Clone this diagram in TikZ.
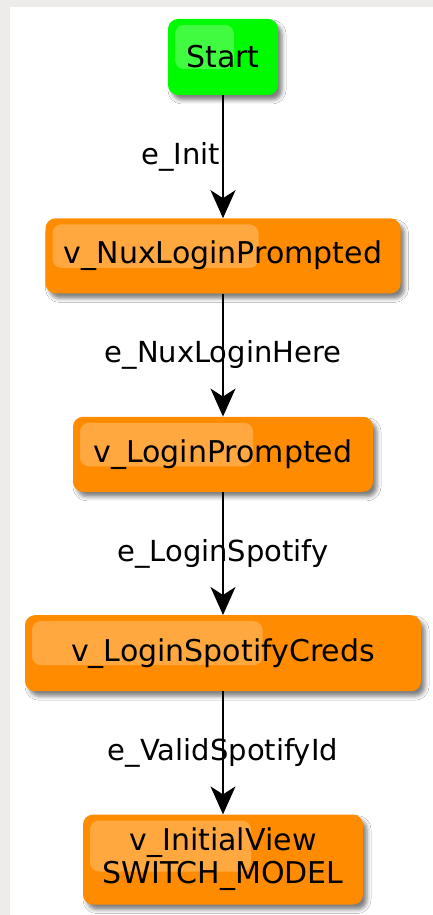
\documentclass[tikz,border=0pt]{standalone}
\usepackage{fontspec}
\setmainfont{DejaVu Sans}
\usetikzlibrary{arrows.meta}
\usetikzlibrary{positioning}
\usetikzlibrary{calc}
\usetikzlibrary{shadows.blur}

\definecolor{stateorange}{RGB}{255,140,0}
\definecolor{startgreen}{RGB}{0,250,0}
\definecolor{framegray}{RGB}{237,236,234}

\begin{document}
\begin{tikzpicture}[x=1pt, y=1pt]
\tikzset{
   node distance = 123pt, >={Stealth[length=28pt, width=25pt, inset=8pt]},
   vertex/.style = {rectangle, rounded corners = 10pt, fill = stateorange, minimum height = 75pt,
                    align = center, font = \fontsize{30pt}{33pt}\selectfont,
                    blur shadow = {shadow xshift = 4pt, shadow yshift = -5pt, shadow blur radius = 4pt, shadow opacity = 50},
                    path picture = {\fill[white, opacity = .25, rounded corners = 9pt]
                        ($(path picture bounding box.north west) + (7pt,-6pt)$) rectangle
                        ($(path picture bounding box.west)!.6!(path picture bounding box.east) + (0,-12pt)$);}},
   start_vertex/.style = {vertex, fill = startgreen},
   trans/.style = {font = \fontsize{29pt}{32pt}\selectfont, inner sep = 2pt},
   flow/.style = {line width = 1.6pt}
 }
  % frame
  \fill[framegray] (0,0) rectangle (433,915);
  \fill[white] (10,0) rectangle (433,908);
  \useasboundingbox (0,0) rectangle (433,915);

  \node[start_vertex] (start) [minimum width = 110pt, minimum height = 76pt] at (223,858) {Start};

  \node[vertex] (nux) [below = of start, minimum width = 355pt] {v\_NuxLoginPrompted}
        edge [<-, flow] node[trans, anchor = east] {e\_Init} (start);

  \node[vertex] (login) [below = of nux, minimum width = 300pt] {v\_LoginPrompted}
        edge [<-, flow] node[trans] {e\_NuxLoginHere} (nux);

  \node[vertex] (creds) [below = of login, minimum width = 396pt, minimum height = 76pt] {v\_LoginSpotifyCreds}
        edge [<-, flow] node[trans] {e\_LoginSpotify} (login);

  \node[vertex] (initial) [below = of creds, minimum width = 280pt, minimum height = 90pt] {v\_InitialView\\SWITCH\_MODEL}
        edge [<-, flow] node[trans] {e\_ValidSpotifyId} (creds);

\end{tikzpicture}
\end{document}
